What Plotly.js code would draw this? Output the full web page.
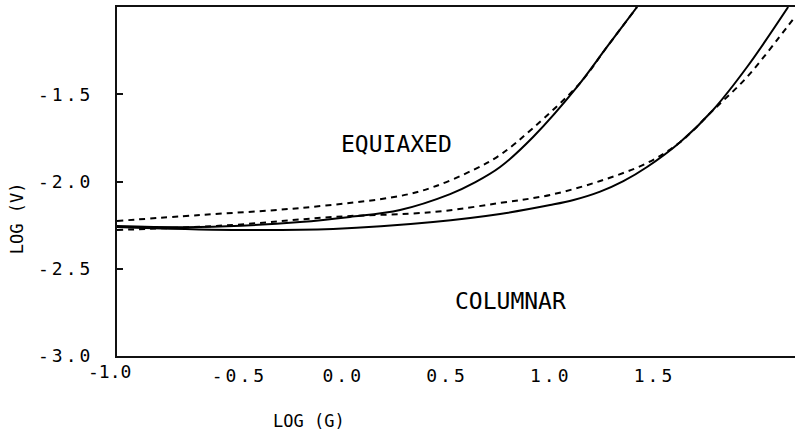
<!DOCTYPE html>
<html>
<head>
<meta charset="utf-8">
<script src="https://cdn.plot.ly/plotly-3.0.1.min.js"></script>
<style>
  html, body { margin: 0; padding: 0; background: #fff; }
  #chart { width: 795px; height: 438px; }
  .xtick text, .ytick text { letter-spacing: 3px; }
</style>
</head>
<body>
<div id="chart"></div>
<script>
// Equiaxed, solid (computed) curve
const eqSolidX = [-1.09, -0.69, -0.208, 0.033, 0.274, 0.515, 0.635, 0.756, 0.915, 1.127, 1.271, 1.416];
const eqSolidY = [-2.255, -2.261, -2.232, -2.203, -2.163, -2.072, -2.005, -1.917, -1.745, -1.458, -1.229, -1.0];
// Equiaxed, dashed curve
const eqDashX = [-1.09, -0.69, -0.208, 0.274, 0.433, 0.626, 0.756, 0.915, 1.141, 1.271, 1.416];
const eqDashY = [-2.226, -2.192, -2.152, -2.083, -2.032, -1.934, -1.848, -1.693, -1.436, -1.229, -1.0];
// Columnar, solid curve
const colSolidX = [-1.09, -0.531, -0.049, 0.433, 0.756, 0.997, 1.11, 1.238, 1.35, 1.464, 1.623, 1.782, 1.946, 2.144];
const colSolidY = [-2.261, -2.278, -2.272, -2.232, -2.186, -2.135, -2.106, -2.058, -1.998, -1.917, -1.775, -1.590, -1.344, -1.0];
// Columnar, dashed curve
const colDashX = [-1.09, -0.531, -0.049, 0.433, 0.756, 0.997, 1.238, 1.464, 1.623, 1.782, 1.946, 2.139, 2.177];
const colDashY = [-2.278, -2.249, -2.203, -2.175, -2.123, -2.077, -1.997, -1.894, -1.775, -1.592, -1.401, -1.115, -1.057];

const xTickVals = [-0.5, 0.0, 0.5, 1.0, 1.5];
const xTickText = ["-0.5", "0.0", "0.5", "1.0", "1.5"];
const xFirstTick = -1.0, xFirstText = "-1.0";
const yTickVals = [-3.0, -2.5, -2.0, -1.5];
const yTickText = ["-3.0", "-2.5", "-2.0", "-1.5"];

const FONT = "DejaVu Sans Mono, monospace";
const solid = {color: "#000", width: 2, shape: "spline", smoothing: 1};
const dashed = {color: "#000", width: 2, dash: "6px,5px", shape: "spline", smoothing: 1};

const traces = [
  {x: eqSolidX, y: eqSolidY, mode: "lines", line: solid, hoverinfo: "skip"},
  {x: eqDashX, y: eqDashY, mode: "lines", line: dashed, hoverinfo: "skip"},
  {x: colSolidX, y: colSolidY, mode: "lines", line: solid, hoverinfo: "skip"},
  {x: colDashX, y: colDashY, mode: "lines", line: dashed, hoverinfo: "skip"}
];

const layout = {
  width: 795, height: 438,
  margin: {l: 117, r: 0, t: 7, b: 82},
  paper_bgcolor: "#fff", plot_bgcolor: "#fff",
  showlegend: false,
  xaxis: {
    range: [-1.09, 2.177],
    tickvals: xTickVals, ticktext: xTickText,
    showgrid: false, zeroline: false,
    showline: true, linecolor: "#111", linewidth: 2, mirror: true,
    ticks: "", ticklabelstandoff: 2,
    tickfont: {family: FONT, size: 18, color: "#000"}
  },
  yaxis: {
    range: [-3.0, -1.0],
    tickvals: yTickVals, ticktext: yTickText,
    showgrid: false, zeroline: false,
    showline: true, linecolor: "#111", linewidth: 2,
    ticks: "inside", ticklen: 6, tickwidth: 2, tickcolor: "#111",
    ticklabelstandoff: 18,
    tickfont: {family: FONT, size: 18, color: "#000"}
  },
  annotations: [
    {x: xFirstTick, y: 0, xref: "x", yref: "paper", text: xFirstText, showarrow: false,
     xanchor: "center", yanchor: "top", xshift: -26, yshift: -3,
     font: {family: FONT, size: 18, color: "#000"}},
    {x: 0.2546, y: -1.785, xref: "x", yref: "y", text: "EQUIAXED", showarrow: false,
     xanchor: "center", yanchor: "middle",
     font: {family: FONT, size: 23, color: "#000"}},
    {x: 0.804, y: -2.685, xref: "x", yref: "y", text: "COLUMNAR", showarrow: false,
     xanchor: "center", yanchor: "middle",
     font: {family: FONT, size: 23, color: "#000"}},
    {x: 0.283, y: -0.186, xref: "paper", yref: "paper", text: "LOG (G)", showarrow: false,
     xanchor: "center", yanchor: "middle",
     font: {family: FONT, size: 17, color: "#000"}},
    {x: -0.1475, y: 0.395, xref: "paper", yref: "paper", text: "LOG (V)", showarrow: false,
     xanchor: "center", yanchor: "middle",
     textangle: -90, font: {family: FONT, size: 17, color: "#000"}}
  ]
};

Plotly.newPlot("chart", traces, layout, {staticPlot: true, displayModeBar: false});
</script>
</body>
</html>
